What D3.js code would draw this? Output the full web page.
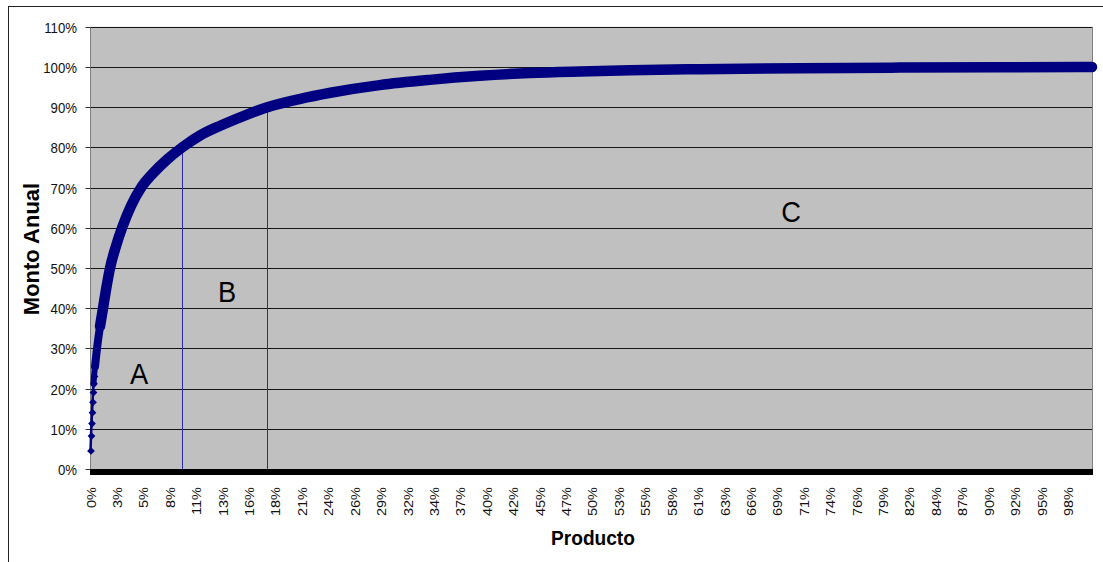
<!DOCTYPE html>
<html>
<head>
<meta charset="utf-8">
<script src="https://cdn.jsdelivr.net/npm/d3@7"></script>
<style>
  html, body { margin: 0; padding: 0; background: #fff; }
  svg { display: block; }
  text { font-family: "Liberation Sans", Arial, sans-serif; }
</style>
</head>
<body>
<svg id="chart" width="1103" height="562"></svg>
<script>
// Cumulative annual amount (Pareto / ABC curve)
// share of products (%) and cumulative share of annual amount (%)
const productShare = [0.05, 0.10, 0.15, 0.20, 0.25, 0.30, 0.35, 0.40, 0.5, 0.7, 1.0, 1.3, 1.6, 2.0, 2.6, 3.2, 4.1, 5.1, 6.3, 7.7, 9.2, 11.0, 13.0, 15.3, 17.7, 21.0, 24.0, 28.9, 33.9, 38.9, 43.9, 48.9, 53.9, 60.9, 70.9, 80.8, 90.8, 100];
const cumulativeAmount = [4.5, 8.2, 11.3, 14.0, 16.6, 19.0, 21.2, 23.0, 25.5, 30.0, 35.5, 40.0, 44.6, 50.0, 55.5, 60.0, 65.5, 70.0, 73.6, 77.0, 80.0, 83.0, 85.4, 87.8, 90.0, 92.1, 93.6, 95.5, 96.8, 97.8, 98.5, 98.9, 99.2, 99.45, 99.7, 99.85, 99.95, 100];

// class boundaries (A|B and B|C)
const classNames = ["A", "B", "C"];
const cutShare = [9.2, 17.7];
const cutAmount = [80.0, 90.0];

// axis ticks
const yTicks = [0, 10, 20, 30, 40, 50, 60, 70, 80, 90, 100, 110];
const xTickLabels = ["0%", "3%", "5%", "8%", "11%", "13%", "16%", "18%", "21%", "24%", "26%", "29%", "32%", "34%", "37%", "40%", "42%", "45%", "47%", "50%", "53%", "55%", "58%", "61%", "63%", "66%", "69%", "71%", "74%", "76%", "79%", "82%", "84%", "87%", "90%", "92%", "95%", "98%"];
const xLabelStep = 2.6365; // product share between two category labels

const svg = d3.select("#chart");
const L = 90, R = 1092, T = 26.8, B = 469;
const sx = 0.91; // horizontal squeeze of the lettering

const x = d3.scaleLinear().domain([0, 100]).range([L, R]);
const y = d3.scaleLinear().domain([0, 110]).range([B, T]);

// chart border
svg.append("rect").attr("x", 8.5).attr("y", 6.5).attr("width", 1110).attr("height", 570)
  .attr("fill", "#fff").attr("stroke", "#222").attr("stroke-width", 1);

// plot area
svg.append("rect").attr("x", L).attr("y", T).attr("width", R - L).attr("height", B - T)
  .attr("fill", "#c0c0c0");

// horizontal gridlines
svg.append("g").selectAll("line").data(yTicks.filter(d => d > 0)).join("line")
  .attr("x1", L).attr("x2", R)
  .attr("y1", d => Math.round(y(d)) + 0.5).attr("y2", d => Math.round(y(d)) + 0.5)
  .attr("stroke", "#151515").attr("stroke-width", 1);

// plot right border
svg.append("line").attr("x1", R + 0.5).attr("x2", R + 0.5).attr("y1", T).attr("y2", B)
  .attr("stroke", "#808080");

// y axis
const yAxis = svg.append("g").attr("transform", `translate(${L + 0.5},0)`)
  .call(d3.axisLeft(y).tickValues(yTicks).tickSize(5).tickPadding(0).tickFormat(() => ""));
yAxis.select(".domain").attr("stroke", "#808080").attr("d", `M-0,${T}V${B}`);
yAxis.selectAll(".tick line").attr("stroke", "#333");
yAxis.selectAll(".tick").attr("transform", d => `translate(0,${Math.round(y(d)) + 0.5})`);

svg.append("g").selectAll("text").data(yTicks).join("text")
  .attr("transform", d => `translate(77,${Math.round(y(d)) + 5.5}) scale(${sx},1)`)
  .attr("text-anchor", "end")
  .attr("font-size", 14.5)
  .attr("fill", "#111")
  .text(d => d + "%");

// class boundary lines
svg.append("g").selectAll("line").data(cutShare).join("line")
  .attr("x1", d => Math.round(x(d)) + 0.5).attr("x2", d => Math.round(x(d)) + 0.5)
  .attr("y1", B).attr("y2", (d, i) => y(cutAmount[i]))
  .attr("stroke", "#2a2ab0").attr("stroke-width", 1);

// x axis (thick base line)
svg.append("rect").attr("x", L).attr("y", B).attr("width", R - L + 1).attr("height", 6)
  .attr("fill", "#000");

// x category labels
svg.append("g").selectAll("text").data(xTickLabels).join("text")
  .attr("transform", (d, i) => `translate(${x(i * xLabelStep) + 5.5},487) scale(${sx},1) rotate(-90)`)
  .attr("text-anchor", "end")
  .attr("font-size", 14.5)
  .attr("fill", "#111")
  .text(d => d);

// cumulative curve: thin connector, then the dense band of overlapping markers
const pts = productShare.map((s, i) => [s, cumulativeAmount[i]]);
const line = d3.line().x(d => x(d[0])).y(d => y(d[1])).curve(d3.curveMonotoneX);
const navy = "#000080";

svg.append("path").datum(pts).attr("d", line)
  .attr("fill", "none").attr("stroke", navy).attr("stroke-width", 2.5);

svg.append("path").datum(pts.filter(d => d[1] >= 21)).attr("d", line)
  .attr("fill", "none").attr("stroke", navy).attr("stroke-width", 6)
  .attr("stroke-linecap", "round").attr("stroke-linejoin", "round");

svg.append("path").datum(pts.filter(d => d[1] >= 25)).attr("d", line)
  .attr("fill", "none").attr("stroke", navy).attr("stroke-width", 8)
  .attr("stroke-linecap", "round").attr("stroke-linejoin", "round");

svg.append("path").datum(pts.filter(d => d[1] >= 35)).attr("d", line)
  .attr("fill", "none").attr("stroke", navy).attr("stroke-width", 10.5)
  .attr("stroke-linecap", "round").attr("stroke-linejoin", "round");

// diamond markers for the first products and the last one
const diamond = d3.symbol().type(d3.symbolDiamond2);
svg.append("g").selectAll("path").data(pts.filter(d => d[1] < 25)).join("path")
  .attr("transform", d => `translate(${x(d[0]) + 0.5},${y(d[1])})`)
  .attr("d", diamond.size(38)())
  .attr("fill", navy);
svg.append("path")
  .attr("transform", `translate(${x(pts[pts.length - 1][0])},${y(pts[pts.length - 1][1])})`)
  .attr("d", d3.symbol().type(d3.symbolDiamond2).size(62)())
  .attr("fill", navy);

// class letters
const letterPos = [[139, 384], [227, 302], [791, 222]];
svg.append("g").selectAll("text").data(classNames).join("text")
  .attr("transform", (d, i) => `translate(${letterPos[i][0]},${letterPos[i][1]}) scale(${sx},1)`)
  .attr("text-anchor", "middle")
  .attr("font-size", 30)
  .attr("fill", "#000")
  .text(d => d);

// axis titles
svg.append("text")
  .attr("transform", `translate(593,545) scale(${sx},1)`)
  .attr("text-anchor", "middle")
  .attr("font-size", 21).attr("font-weight", "bold").attr("fill", "#000")
  .text("Producto");

svg.append("text")
  .attr("transform", `translate(39,249) rotate(-90)`)
  .attr("text-anchor", "middle")
  .attr("font-size", 22).attr("font-weight", "bold").attr("fill", "#000")
  .text("Monto Anual");
</script>
</body>
</html>
